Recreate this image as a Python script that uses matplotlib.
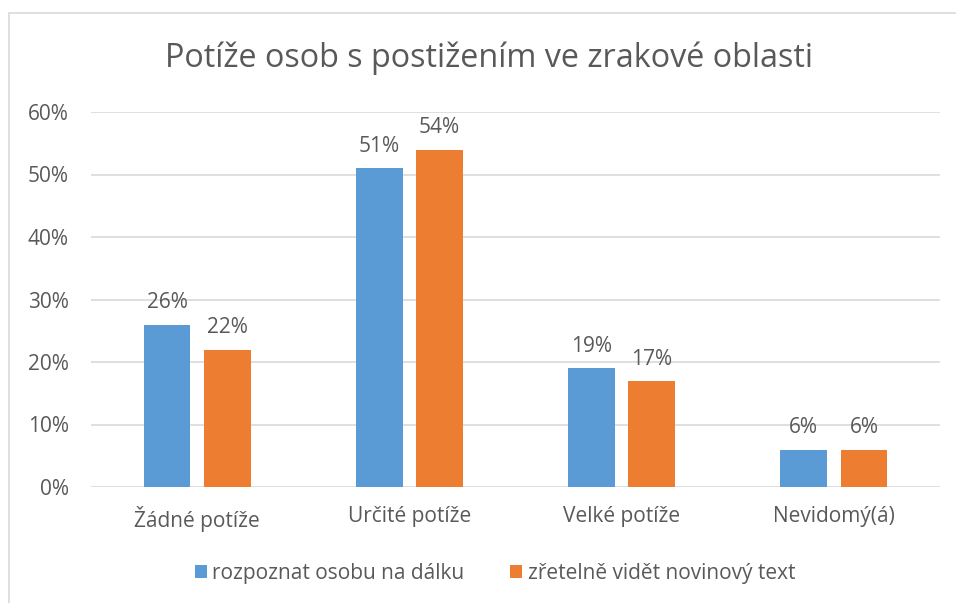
import matplotlib; matplotlib.use("Agg")
import matplotlib.pyplot as plt
from matplotlib.patches import Rectangle
from matplotlib.ticker import FuncFormatter
import numpy as np

plt.rcParams["font.family"] = ["Open Sans", "DejaVu Sans"]

categories = ["Žádné potíže", "Určité potíže", "Velké potíže", "Nevidomý(á)"]
series_names = ["rozpoznat osobu na dálku", "zřetelně vidět novinový text"]
recognize = [0.26, 0.51, 0.19, 0.06]
newspaper = [0.22, 0.54, 0.17, 0.06]
yticks = [0, 0.1, 0.2, 0.3, 0.4, 0.5, 0.6]

BLUE = "#5B9BD5"; ORANGE = "#ED7D31"; TXT = "#595959"; GRID = "#D9D9D9"
FS = 15

fig = plt.figure(figsize=(9.56, 6.03), dpi=100)
# light outer frame (chart border, partly cropped)
fig.patches.append(Rectangle((9/956, -0.1), 1.2, (603-13)/603 + 0.1, transform=fig.transFigure,
                             fill=False, ec="#D9D9D9", lw=1.2))
ax = fig.add_axes([91/956, 116/603, 849/956, 375/603])

x = np.arange(len(categories))
w, off = 0.22, 0.142
b1 = ax.bar(x - off, recognize, w, color=BLUE, label=series_names[0], zorder=3)
b2 = ax.bar(x + off, newspaper, w, color=ORANGE, label=series_names[1], zorder=3)
for bars in (b1, b2):
    for r in bars:
        ax.annotate(f"{r.get_height()*100:.0f}%", (r.get_x() + r.get_width()/2, r.get_height()),
                    xytext=(0, 8), textcoords="offset points", ha="center", va="bottom",
                    fontsize=FS, color=TXT)

ax.set_xlim(-0.5, len(categories) - 0.5)
ax.set_ylim(0, 0.6)
ax.set_yticks(yticks)
ax.yaxis.set_major_formatter(FuncFormatter(lambda v, p: f"{v*100:.0f}%"))
ax.set_xticks(x); ax.set_xticklabels(categories)
ax.tick_params(axis="both", length=0, labelsize=FS, colors=TXT)
ax.tick_params(axis="y", pad=16)
ax.tick_params(axis="x", pad=14)
ax.grid(axis="y", color=GRID, lw=1.2, zorder=0)
for s in ax.spines.values():
    s.set_visible(False)

fig.text(489/956, 1 - 58/603, "Potíže osob s postižením ve zrakové oblasti", ha="center", va="center",
         fontsize=23.3, color=TXT)
fig.legend(handles=[b1, b2], loc="center", bbox_to_anchor=(495/956, 1 - 573/603), ncol=2,
           frameon=False, fontsize=FS, labelcolor=TXT, handlelength=0.58, handleheight=0.58,
           handletextpad=0.25, columnspacing=2.2)

fig.savefig("out.png", dpi=100)
